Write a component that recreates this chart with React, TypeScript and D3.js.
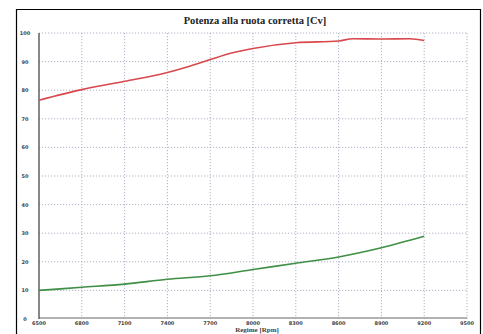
import React from "react";
import { scaleLinear, line, curveMonotoneX, range } from "d3";

const W = 483;
const H = 334;

const rpmTicks = [6500, 6800, 7100, 7400, 7700, 8000, 8300, 8600, 8900, 9200, 9500];
const valueTicks = range(0, 101, 10);

const powerRpm = [6500, 6800, 7100, 7400, 7550, 7700, 7850, 8000, 8300, 8600, 8700, 8900, 9100, 9200];
const powerCv = [76.5, 80.2, 83.1, 86.2, 88.3, 90.7, 93.0, 94.6, 96.6, 97.2, 98.0, 97.9, 98.0, 97.4];

const torqueRpm = [6500, 6800, 7100, 7400, 7700, 8000, 8300, 8600, 8900, 9200];
const torqueVal = [10.0, 11.1, 12.2, 13.9, 15.1, 17.3, 19.5, 21.7, 24.9, 28.9];

const App = () => {
  const x = scaleLinear().domain([6500, 9500]).range([39, 467]);
  const y = scaleLinear().domain([0, 100]).range([319, 33]);

  const mk = (xs: number[], ys: number[]) =>
    line<number>()
      .x((d) => x(d))
      .y((_, i) => y(ys[i]))
      .curve(curveMonotoneX)(xs) || "";

  const grid = "#9a9fb8";

  return (
    <div style={{ position: "fixed", left: 0, top: 0 }}>
      <svg width={W} height={H} viewBox={`0 0 ${W} ${H}`} style={{ display: "block", background: "#fff" }}>
        {/* outer frame */}
        <path d={`M16.5,${H} V9.5 H480.5 V${H}`} fill="none" stroke="#000" strokeWidth={1.2} />

        <text
          x={255}
          y={24}
          textAnchor="middle"
          fontFamily="Liberation Serif"
          fontWeight="bold"
          fontSize={10.5}
          fill="#222"
        >
          Potenza alla ruota corretta [Cv]
        </text>

        {/* grid */}
        {valueTicks.slice(1).map((v) => (
          <line
            key={"h" + v}
            x1={x(6500)}
            x2={x(9500)}
            y1={y(v)}
            y2={y(v)}
            stroke={grid}
            strokeWidth={0.8}
            strokeDasharray="1.2,1.8"
          />
        ))}
        {rpmTicks.slice(1).map((r) => (
          <line
            key={"v" + r}
            x1={x(r)}
            x2={x(r)}
            y1={y(100)}
            y2={y(0)}
            stroke={grid}
            strokeWidth={0.8}
            strokeDasharray="1.2,1.8"
          />
        ))}

        {/* axes */}
        <line x1={x(6500)} x2={x(9500)} y1={y(0) - 1} y2={y(0) - 1} stroke="#999" strokeWidth={1.6} />
        <line x1={x(6500)} x2={x(6500)} y1={y(100)} y2={y(0)} stroke="#555" strokeWidth={1.4} />

        {valueTicks.map((v) => (
          <text
            key={"yl" + v}
            x={25}
            y={y(v) + 2}
            textAnchor="middle"
            fontFamily="DejaVu Sans"
            fontWeight="bold"
            fontSize={5}
            fill="#444"
          >
            {v}
          </text>
        ))}
        {rpmTicks.map((r) => (
          <text
            key={"xl" + r}
            x={x(r)}
            y={325}
            textAnchor="middle"
            fontFamily="DejaVu Sans"
            fontWeight="bold"
            fontSize={5}
            fill="#444"
          >
            {r}
          </text>
        ))}
        <text
          x={257}
          y={332}
          textAnchor="middle"
          fontFamily="Liberation Serif"
          fontWeight="bold"
          fontSize={7}
          fill="#444"
        >
          Regime [Rpm]
        </text>

        {/* series */}
        <path d={mk(powerRpm, powerCv)} fill="none" stroke="#d8484c" strokeWidth={1.6} />
        <path d={mk(torqueRpm, torqueVal)} fill="none" stroke="#3f8f45" strokeWidth={1.6} />
      </svg>
    </div>
  );
};

export default App;
